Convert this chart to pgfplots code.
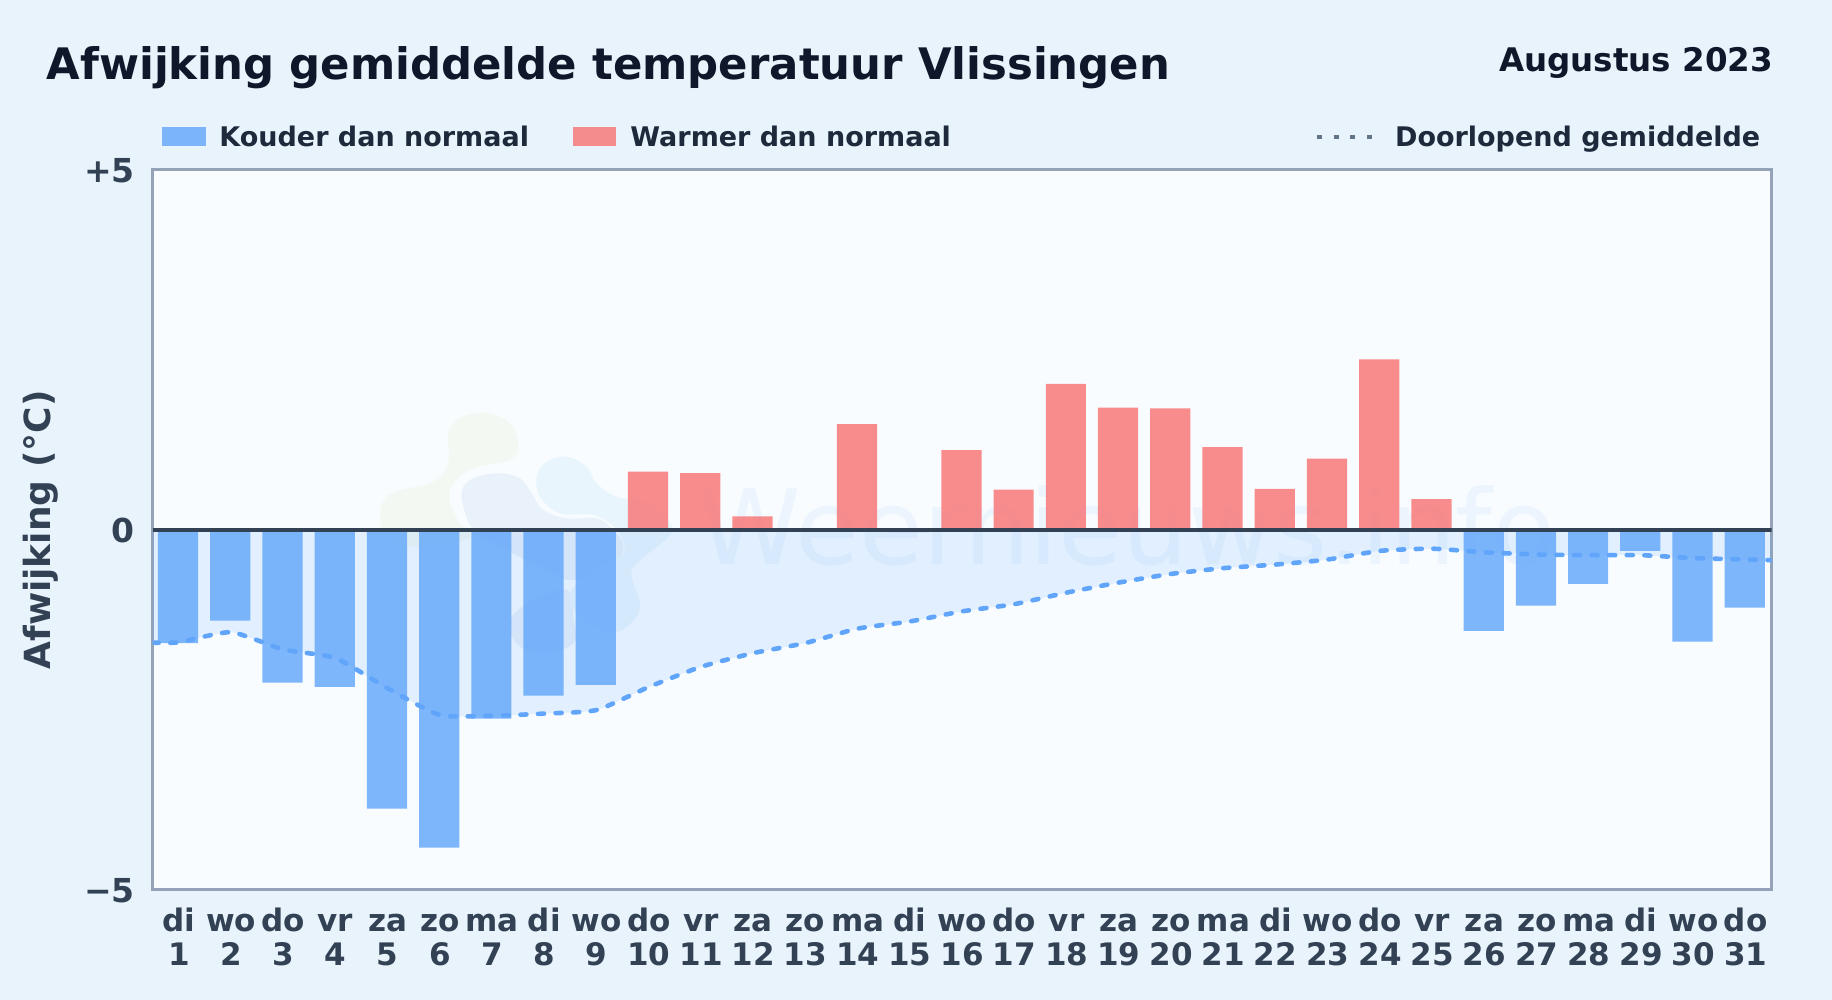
\documentclass[border=0pt]{standalone}
\usepackage{fontspec}
\setmainfont{DejaVu Sans}
\usepackage{pgfplots}
\pgfplotsset{compat=1.18}

\definecolor{pagebg}{HTML}{E8F3FC}
\definecolor{panelbg}{HTML}{F8FCFF}
\definecolor{coldbar}{HTML}{60A5FA}
\definecolor{warmbar}{HTML}{F87171}
\definecolor{frameline}{HTML}{94A3B8}
\definecolor{zeroline}{HTML}{334155}
\definecolor{titletext}{HTML}{0F172A}
\definecolor{legendtext}{HTML}{1E293B}
\definecolor{ticktext}{HTML}{334155}
\definecolor{dotsample}{HTML}{64748B}
\definecolor{logogreen}{HTML}{F3F9F2}
\definecolor{logomid}{HTML}{E9F1FA}
\definecolor{logoblue}{HTML}{E9F5FD}

%% two-line day label, the rule keeps the first baselines level
\newcommand{\dl}[2]{\rule{0pt}{13pt}#1\\#2}

\begin{document}
\begin{tikzpicture}[x=1pt,y=1pt]
%% page, 1 px of the reference is 0.5pt
\fill[pagebg] (0,0) rectangle (916,500);
\useasboundingbox (0,0) rectangle (916,500);
\fill[panelbg] (76.35,55) rectangle (885.85,415);

%% faint logo and watermark behind the bars
\begin{scope}[shift={(180pt,305pt)},x=0.16667pt,y=-0.16667pt]
  \fill[logogreen] plot[smooth cycle,tension=0.6] coordinates {
    (60,370)(95,310)(220,275)(265,215)(265,130)(300,85)(380,68)(450,100)(475,165)
    (450,210)(340,235)(280,280)(268,330)(300,400)(340,440)(200,470)(90,450)};
  \fill[logomid] plot[smooth cycle,tension=0.6] coordinates {
    (305,320)(330,270)(410,250)(480,265)(515,310)(550,360)(620,385)(710,385)(760,420)
    (790,470)(760,520)(640,570)(560,540)(420,470)(340,420)};
  \fill[logomid] plot[smooth cycle,tension=0.6] coordinates {
    (450,690)(520,630)(620,600)(640,680)(640,760)(540,790)(470,760)};
  \fill[logoblue] plot[smooth cycle,tension=0.6] coordinates {
    (530,260)(560,215)(620,200)(680,230)(710,280)(770,320)(880,340)(930,400)(925,440)
    (830,520)(815,560)(840,650)(800,710)(740,725)(650,670)(630,610)(700,540)(790,490)
    (770,420)(700,375)(600,370)(540,320)};
\end{scope}
\node[anchor=base west,inner sep=0pt,text=coldbar,opacity=0.08,font=\fontsize{52}{52}\selectfont]
  at (349,217.5) {Weernieuws.info};

\begin{axis}[
  at={(76.35pt,55pt)},anchor=south west,
  scale only axis,
  width=809.5pt,height=360pt,
  xmin=0.5,xmax=31.5,
  ymin=-5,ymax=5,
  xtick={1,...,31},
  xticklabels={{\dl{di}{1}},{\dl{wo}{2}},{\dl{do}{3}},{\dl{vr}{4}},{\dl{za}{5}},{\dl{zo}{6}},
    {\dl{ma}{7}},{\dl{di}{8}},{\dl{wo}{9}},{\dl{do}{10}},{\dl{vr}{11}},{\dl{za}{12}},
    {\dl{zo}{13}},{\dl{ma}{14}},{\dl{di}{15}},{\dl{wo}{16}},{\dl{do}{17}},{\dl{vr}{18}},
    {\dl{za}{19}},{\dl{zo}{20}},{\dl{ma}{21}},{\dl{di}{22}},{\dl{wo}{23}},{\dl{do}{24}},
    {\dl{vr}{25}},{\dl{za}{26}},{\dl{zo}{27}},{\dl{ma}{28}},{\dl{di}{29}},{\dl{wo}{30}},
    {\dl{do}{31}}},
  ytick={-5,0,5},
  yticklabels={−5,0,+5},
  major tick length=0pt,
  axis line style={frameline,line width=1.5pt},
  tick style={draw=none},
  xticklabel style={align=center,text=ticktext,inner sep=0pt,yshift=-7.7pt,
    font=\fontsize{15.5}{16.7}\selectfont\bfseries},
  yticklabel style={text=ticktext,inner sep=0pt,xshift=-8.8pt,yshift=-0.4pt,
    font=\fontsize{16.5}{18}\selectfont\bfseries},
  ylabel={Afwijking (°C)},
  every axis y label/.style={at={(rel axis cs:0,0.5)},rotate=90,anchor=center,
    yshift=56pt,text=ticktext,font=\fontsize{18}{20}\selectfont\bfseries},
]
%% running mean, area down from the zero line
\addplot[draw=none,fill=coldbar,fill opacity=0.15,smooth,tension=0.35] coordinates {
  (0.5,-1.565)(1,-1.56)(2,-1.42)(3,-1.66)(4,-1.78)(5,-2.20)(6,-2.57)(7,-2.58)(8,-2.55)
  (9,-2.50)(10,-2.18)(11,-1.90)(12,-1.71)(13,-1.57)(14,-1.37)(15,-1.27)(16,-1.13)
  (17,-1.03)(18,-0.87)(19,-0.73)(20,-0.61)(21,-0.53)(22,-0.48)(23,-0.41)(24,-0.29)
  (25,-0.26)(26,-0.31)(27,-0.34)(28,-0.35)(29,-0.35)(30,-0.39)(31,-0.41)(31.5,-0.42)
} \closedcycle;

%% colder days
\addplot[ybar,bar width=0.77,bar shift=-0.4pt,draw=none,fill=coldbar,fill opacity=0.8] coordinates {
  (1,-1.57)(2,-1.26)(3,-2.12)(4,-2.18)(5,-3.87)(6,-4.41)(7,-2.62)(8,-2.30)(9,-2.15)
  (15,-0.03)(26,-1.40)(27,-1.05)(28,-0.75)(29,-0.29)(30,-1.55)(31,-1.08)
};
%% warmer days
\addplot[ybar,bar width=0.77,bar shift=-0.4pt,draw=none,fill=warmbar,fill opacity=0.8] coordinates {
  (10,0.81)(11,0.79)(12,0.19)(14,1.47)(16,1.11)(17,0.56)(18,2.03)(19,1.70)(20,1.69)
  (21,1.15)(22,0.57)(23,0.99)(24,2.37)(25,0.43)
};
%% running mean
\addplot[coldbar,line width=2.3pt,line cap=round,dash pattern=on 3pt off 5.8pt,smooth,tension=0.35] coordinates {
  (0.5,-1.565)(1,-1.56)(2,-1.42)(3,-1.66)(4,-1.78)(5,-2.20)(6,-2.57)(7,-2.58)(8,-2.55)
  (9,-2.50)(10,-2.18)(11,-1.90)(12,-1.71)(13,-1.57)(14,-1.37)(15,-1.27)(16,-1.13)
  (17,-1.03)(18,-0.87)(19,-0.73)(20,-0.61)(21,-0.53)(22,-0.48)(23,-0.41)(24,-0.29)
  (25,-0.26)(26,-0.31)(27,-0.34)(28,-0.35)(29,-0.35)(30,-0.39)(31,-0.41)(31.5,-0.42)
};
%% zero line
\addplot[zeroline,line width=2.1pt] coordinates {(0.5,0)(31.5,0)};
\end{axis}

%% title and month
\node[anchor=base west,inner sep=0pt,text=titletext,font=\fontsize{21.7}{24}\selectfont\bfseries]
  at (23.1,460) {Afwijking gemiddelde temperatuur Vlissingen};
\node[anchor=base east,inner sep=0pt,text=titletext,font=\fontsize{16.25}{18}\selectfont\bfseries]
  at (886.7,464.3) {Augustus 2023};

%% legend row
\fill[coldbar,opacity=0.8] (80.8,427) rectangle (102.9,436.6);
\node[anchor=base west,inner sep=0pt,text=legendtext,font=\fontsize{13.5}{15}\selectfont\bfseries]
  at (109.5,426.5) {Kouder dan normaal};
\fill[warmbar,opacity=0.8] (286.5,427) rectangle (308,436.6);
\node[anchor=base west,inner sep=0pt,text=legendtext,font=\fontsize{13.5}{15}\selectfont\bfseries]
  at (315,426.5) {Warmer dan normaal};
\draw[dotsample,line width=2pt,dash pattern=on 2.5pt off 5.75pt] (658.5,431.7) -- (688,431.7);
\node[anchor=base east,inner sep=0pt,text=legendtext,font=\fontsize{13.5}{15}\selectfont\bfseries]
  at (880.3,426.5) {Doorlopend gemiddelde};
\end{tikzpicture}
\end{document}
